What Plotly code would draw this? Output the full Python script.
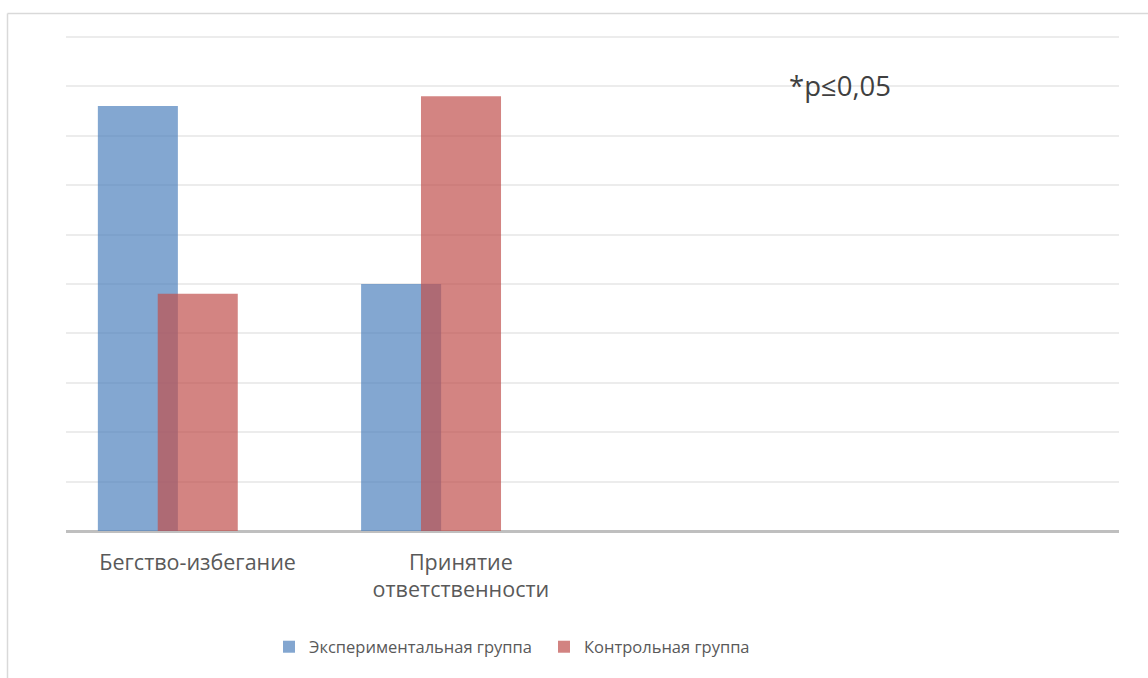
import plotly.graph_objects as go

# Категории шкалы копинг-стратегий (две последние позиции оси пустые)
categories = ["Бегство-избегание", "Принятие<br>ответственности"]
experimental = [8.6, 5.0]
control = [4.8, 8.8]

W, H = 1148, 678
L, R, T, B = 66, 29, 32, 147
PW = W - L - R
PH = H - T - B


def px_x(x):
    return (x - L) / PW


def px_y(y):
    return (H - B - y) / PH


fig = go.Figure()
fig.add_trace(go.Bar(
    x=[0, 1], y=experimental, name="Экспериментальная группа",
    marker=dict(color="#4F81BD", line=dict(width=0)), opacity=0.7,
    width=0.304, offset=-0.379,
))
fig.add_trace(go.Bar(
    x=[0, 1], y=control, name="Контрольная группа",
    marker=dict(color="#C0504D", line=dict(width=0)), opacity=0.7,
    width=0.304, offset=-0.1515,
))

fig.add_annotation(
    x=px_x(787), y=px_y(85), xref="paper", yref="paper",
    xanchor="left", yanchor="middle", showarrow=False,
    text="*p≤0,05", font=dict(size=27.5, color="#404040", family="Open Sans"),
)

# рамка области диаграммы
border = "#d9d9d9"
fig.add_shape(type="line", xref="paper", yref="paper",
              x0=px_x(7.5), x1=px_x(1160), y0=px_y(13.5), y1=px_y(13.5),
              line=dict(color=border, width=1.5))
fig.add_shape(type="line", xref="paper", yref="paper",
              x0=px_x(7.5), x1=px_x(7.5), y0=px_y(13.5), y1=px_y(700),
              line=dict(color=border, width=1.5))

fig.update_layout(
    width=W, height=H,
    margin=dict(l=L, r=R, t=T, b=B),
    barmode="overlay",
    plot_bgcolor="white", paper_bgcolor="white",
    font=dict(family="Open Sans", color="#595959", size=16.5),
    showlegend=True,
    legend=dict(
        orientation="h", x=px_x(269), y=px_y(647), xanchor="left", yanchor="middle",
        font=dict(size=16.5, color="#595959"), itemwidth=30, traceorder="normal",
        entrywidth=230, entrywidthmode="pixels",
        bgcolor="rgba(0,0,0,0)",
    ),
    xaxis=dict(
        range=[-0.5, 3.5], tickvals=[0, 1], ticktext=categories,
        showgrid=False, zeroline=False, showline=False, ticks="",
        tickfont=dict(size=21.5, color="#595959"),
        ticklabelstandoff=16,
    ),
    yaxis=dict(
        range=[0, 10.1], tickvals=list(range(0, 11)), showticklabels=False,
        showgrid=True, gridcolor="#ececec", gridwidth=1.5,
        zeroline=True, zerolinecolor="#bfbfbf", zerolinewidth=2.5,
    ),
)

fig.write_html("out.html")
